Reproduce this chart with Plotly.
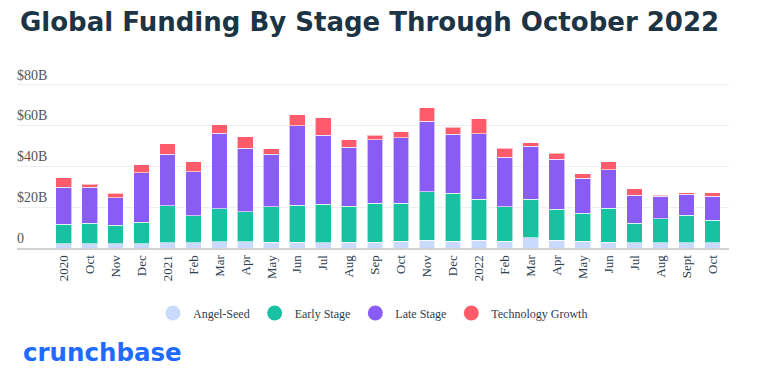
import plotly.graph_objects as go

months = ["2020", "Oct", "Nov", "Dec", "2021", "Feb", "Mar", "Apr", "May", "Jun", "Jul", "Aug", "Sep",
          "Oct", "Nov", "Dec", "2022", "Feb", "Mar", "Apr", "May", "Jun", "Jul", "Aug", "Sept", "Oct"]
angel_seed = [2.1, 2.1, 2.1, 2.1, 2.6, 2.6, 3.1, 3.1, 2.9, 2.9, 2.6, 2.9, 2.9,
              3.4, 3.9, 3.4, 3.9, 3.4, 4.9, 3.9, 3.4, 2.9, 2.5, 2.5, 2.5, 2.5]
early_stage = [9.5, 10.0, 9.0, 10.5, 18.0, 13.2, 16.0, 14.6, 17.2, 18.0, 18.8, 17.6, 19.0,
               18.5, 23.5, 23.5, 20.0, 16.7, 19.0, 15.0, 13.6, 16.5, 9.7, 11.8, 13.4, 11.1]
late_stage = [18.1, 17.6, 13.5, 24.3, 25.3, 21.6, 37.1, 31.0, 25.8, 39.0, 33.8, 28.8, 31.0,
              32.0, 34.5, 28.8, 31.9, 24.4, 25.8, 24.5, 17.2, 18.9, 13.5, 11.1, 10.3, 11.6]
tech_growth = [4.6, 1.6, 2.3, 3.8, 5.0, 4.7, 4.2, 5.6, 2.7, 5.2, 8.5, 3.6, 2.3,
               2.9, 6.7, 3.4, 7.5, 4.2, 1.8, 2.9, 2.0, 3.8, 3.3, 0.3, 0.8, 1.8]
series_names = ["Angel-Seed", "Early Stage", "Late Stage", "Technology Growth"]
series_colors = ["#c9dafc", "#17c1a2", "#8a5cf6", "#ff5b6a"]
y_tickvals = [0, 20, 40, 60, 80]
y_ticktext = ["0", "$20B", "$40B", "$60B", "$80B"]

x = list(range(len(months)))
fig = go.Figure()
for name, vals, col in zip(series_names, [angel_seed, early_stage, late_stage, tech_growth], series_colors):
    fig.add_trace(go.Bar(x=x, y=vals, name=name,
                         marker=dict(color=col, line=dict(color="rgba(255,255,255,0.6)", width=1)),
                         showlegend=False))
    fig.add_trace(go.Scatter(x=[None], y=[None], mode="markers", name=name,
                             marker=dict(color=col, size=15, symbol="circle")))

# the page adds an 8px body margin, so positions are offset by -8
W, H = 757, 381
L, R, T, B = 9, 36, 56, 141
plot_h = H - T - B
plot_w = W - L - R
zero_y = H - B

fig.update_layout(
    width=W, height=H, barmode="stack", bargap=0.395,
    margin=dict(l=L, r=R, t=T, b=B),
    paper_bgcolor="white", plot_bgcolor="white",
    title=dict(text="<b>Global Funding By Stage Through October 2022</b>", xref="container", yref="container",
               x=12 / W, xanchor="left", y=1 - 14 / H, yanchor="middle",
               font=dict(family="DejaVu Sans", size=26, color="#1c3444")),
    xaxis=dict(range=[-1.8, 25.64], tickvals=x, ticktext=months, tickangle=-90,
               tickfont=dict(family="Liberation Serif", size=13, color="#2d3e50"),
               showline=True, linecolor="#cfd3d6", linewidth=2, showgrid=False, ticks="", fixedrange=True),
    yaxis=dict(range=[0, 90], tickvals=y_tickvals, ticktext=y_ticktext, ticklabelposition="inside top",
               ticklabelstandoff=-3,
               tickfont=dict(family="Liberation Serif", size=14, color="#555555"),
               showgrid=True, gridcolor="#eeeeee", zeroline=False, showline=False, ticks=""),
    legend=dict(orientation="h", x=0.5, xanchor="center", y=(zero_y - 305) / plot_h, yanchor="middle",
                font=dict(family="Liberation Serif", size=12, color="#2d3e50"), itemsizing="trace",
                traceorder="normal"),
    annotations=[dict(text="<b>crunchbase</b>", xref="paper", yref="paper", x=(13 - L) / plot_w,
                      y=(zero_y - 344) / plot_h,
                      xanchor="left", yanchor="middle", showarrow=False,
                      font=dict(family="DejaVu Sans", size=24.5, color="#1f6bff"))],
)
fig.write_html("out.html")
